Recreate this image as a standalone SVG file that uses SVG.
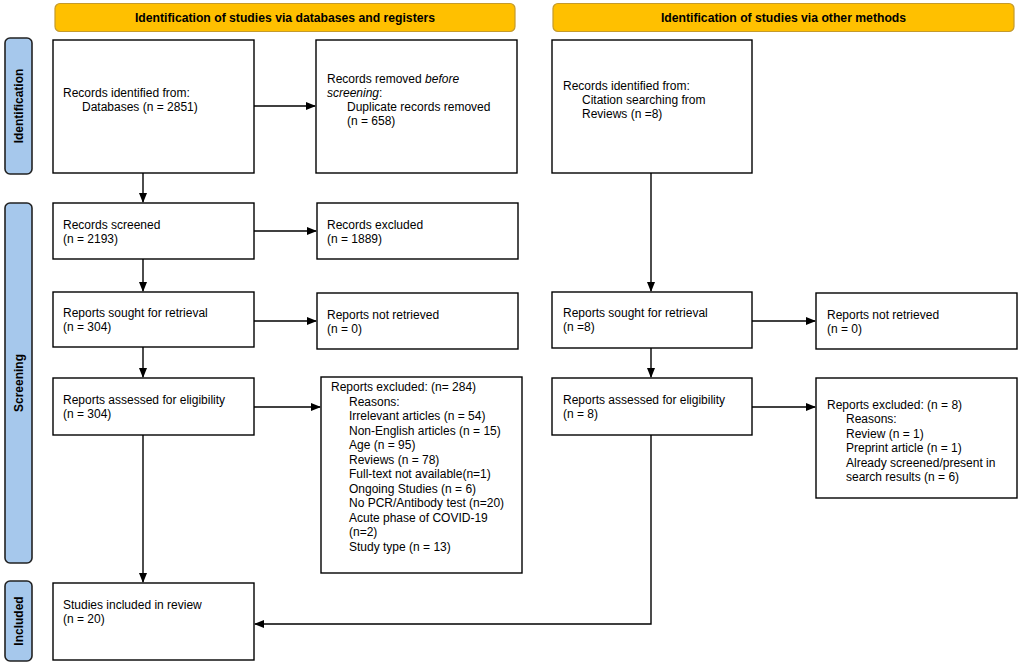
<svg xmlns="http://www.w3.org/2000/svg" width="1021" height="665" viewBox="0 0 1021 665">
<style>
.bn{fill:#FFC000;stroke:#C49A2C;stroke-width:1.2}
.sd{fill:#A6C8EC;stroke:#222;stroke-width:1.6}
.bx{fill:#fff;stroke:#000;stroke-width:1.4}
.t{font-family:"Liberation Sans",Arial,sans-serif;font-size:12px;fill:#000}
.hb{font-family:"Liberation Sans",Arial,sans-serif;font-size:12.2px;font-weight:bold;fill:#000;text-anchor:middle}
.sl{font-family:"Liberation Sans",Arial,sans-serif;font-size:12px;font-weight:bold;fill:#000;text-anchor:middle}
.c{fill:none;stroke:#000;stroke-width:1.4}
</style>
<defs>
<marker id="ah" markerWidth="10" markerHeight="8" refX="9" refY="4" orient="auto" markerUnits="userSpaceOnUse">
<path d="M0,0 L10,4 L0,8 Z" fill="#000"/>
</marker>
</defs>
<rect width="1021" height="665" fill="#fff"/>
<g id="banner-left"><rect class="bn" x="55" y="3.5" width="460" height="28" rx="5"/><text class="hb" x="285" y="22">Identification of studies via databases and registers</text></g>
<g id="banner-right"><rect class="bn" x="553" y="3.5" width="461" height="28" rx="5"/><text class="hb" x="783.5" y="22">Identification of studies via other methods</text></g>
<g id="side-identification"><rect class="sd" x="5" y="38" width="27" height="136" rx="5"/><text class="sl" transform="translate(22.5,106) rotate(-90)">Identification</text></g>
<g id="side-screening"><rect class="sd" x="5" y="203" width="27" height="360" rx="5"/><text class="sl" transform="translate(22.5,383) rotate(-90)">Screening</text></g>
<g id="side-included"><rect class="sd" x="5" y="581" width="27" height="80" rx="5"/><text class="sl" transform="translate(22.5,621) rotate(-90)">Included</text></g>
<g id="n-records-identified"><rect class="bx" x="53" y="40" width="201" height="133"/><text class="t" x="63" y="97">Records identified from:</text><text class="t" x="82" y="111">Databases (n = 2851)</text></g>
<g id="n-records-removed"><rect class="bx" x="316" y="40" width="201" height="133"/><text class="t" x="327" y="83">Records removed <tspan font-style="italic">before</tspan></text><text class="t" x="327" y="97"><tspan font-style="italic">screening</tspan>:</text><text class="t" x="347" y="111">Duplicate records removed</text><text class="t" x="347" y="125">(n = 658)</text></g>
<g id="n-other-identified"><rect class="bx" x="552" y="40" width="200" height="133"/><text class="t" x="563" y="90">Records identified from:</text><text class="t" x="582" y="104">Citation searching from</text><text class="t" x="582" y="118">Reviews (n =8)</text></g>
<g id="n-screened"><rect class="bx" x="53" y="203" width="201" height="56"/><text class="t" x="63" y="229">Records screened</text><text class="t" x="63" y="243">(n = 2193)</text></g>
<g id="n-excluded"><rect class="bx" x="317" y="203" width="201" height="56"/><text class="t" x="327" y="229">Records excluded</text><text class="t" x="327" y="243">(n = 1889)</text></g>
<g id="n-sought"><rect class="bx" x="53" y="292" width="201" height="55"/><text class="t" x="63" y="317">Reports sought for retrieval</text><text class="t" x="63" y="331">(n = 304)</text></g>
<g id="n-not-retrieved"><rect class="bx" x="317" y="293" width="201" height="56"/><text class="t" x="327" y="319">Reports not retrieved</text><text class="t" x="327" y="333">(n = 0)</text></g>
<g id="n-sought-other"><rect class="bx" x="552" y="292" width="200" height="56"/><text class="t" x="563" y="317">Reports sought for retrieval</text><text class="t" x="563" y="331">(n =8)</text></g>
<g id="n-not-retrieved-other"><rect class="bx" x="816" y="293" width="201" height="56"/><text class="t" x="827" y="319">Reports not retrieved</text><text class="t" x="827" y="333">(n = 0)</text></g>
<g id="n-assessed"><rect class="bx" x="53" y="378" width="201" height="57"/><text class="t" x="63" y="404">Reports assessed for eligibility</text><text class="t" x="63" y="418">(n = 304)</text></g>
<g id="n-reports-excluded"><rect class="bx" x="321" y="377" width="201" height="196"/>
<text class="t" x="331" y="391">Reports excluded: (n= 284)</text>
<text class="t" x="349" y="405.5">Reasons:</text>
<text class="t" x="349" y="420">Irrelevant articles (n = 54)</text>
<text class="t" x="349" y="434.5">Non-English articles (n = 15)</text>
<text class="t" x="349" y="449">Age (n = 95)</text>
<text class="t" x="349" y="463.5">Reviews (n = 78)</text>
<text class="t" x="349" y="478">Full-text not available(n=1)</text>
<text class="t" x="349" y="492.5">Ongoing Studies (n = 6)</text>
<text class="t" x="349" y="507">No PCR/Antibody test (n=20)</text>
<text class="t" x="349" y="521.5">Acute phase of COVID-19</text>
<text class="t" x="349" y="536">(n=2)</text>
<text class="t" x="349" y="550.5">Study type (n = 13)</text>
</g>
<g id="n-assessed-other"><rect class="bx" x="552" y="378" width="200" height="57"/><text class="t" x="563" y="404">Reports assessed for eligibility</text><text class="t" x="563" y="418">(n = 8)</text></g>
<g id="n-excluded-other"><rect class="bx" x="816" y="378" width="201" height="120"/>
<text class="t" x="827" y="409">Reports excluded: (n = 8)</text>
<text class="t" x="846" y="423">Reasons:</text>
<text class="t" x="846" y="437.5">Review (n = 1)</text>
<text class="t" x="846" y="452">Preprint article (n = 1)</text>
<text class="t" x="846" y="466.5">Already screened/present in</text>
<text class="t" x="846" y="481">search results (n = 6)</text>
</g>
<g id="n-included"><rect class="bx" x="53" y="583" width="201" height="77"/><text class="t" x="63" y="609">Studies included in review</text><text class="t" x="63" y="623">(n = 20)</text></g>
<g id="connectors">
<path class="c" d="M254,106 H315" marker-end="url(#ah)"/>
<path class="c" d="M143,173 V202" marker-end="url(#ah)"/>
<path class="c" d="M254,231 H316" marker-end="url(#ah)"/>
<path class="c" d="M143,259 V291" marker-end="url(#ah)"/>
<path class="c" d="M254,321 H316" marker-end="url(#ah)"/>
<path class="c" d="M143,347 V377" marker-end="url(#ah)"/>
<path class="c" d="M254,407 H320" marker-end="url(#ah)"/>
<path class="c" d="M143,435 V582" marker-end="url(#ah)"/>
<path class="c" d="M651,173 V291" marker-end="url(#ah)"/>
<path class="c" d="M752,321 H815" marker-end="url(#ah)"/>
<path class="c" d="M651,348 V377" marker-end="url(#ah)"/>
<path class="c" d="M752,407 H815" marker-end="url(#ah)"/>
<path class="c" d="M651,435 V624 H255" marker-end="url(#ah)"/>
</g>
</svg>
